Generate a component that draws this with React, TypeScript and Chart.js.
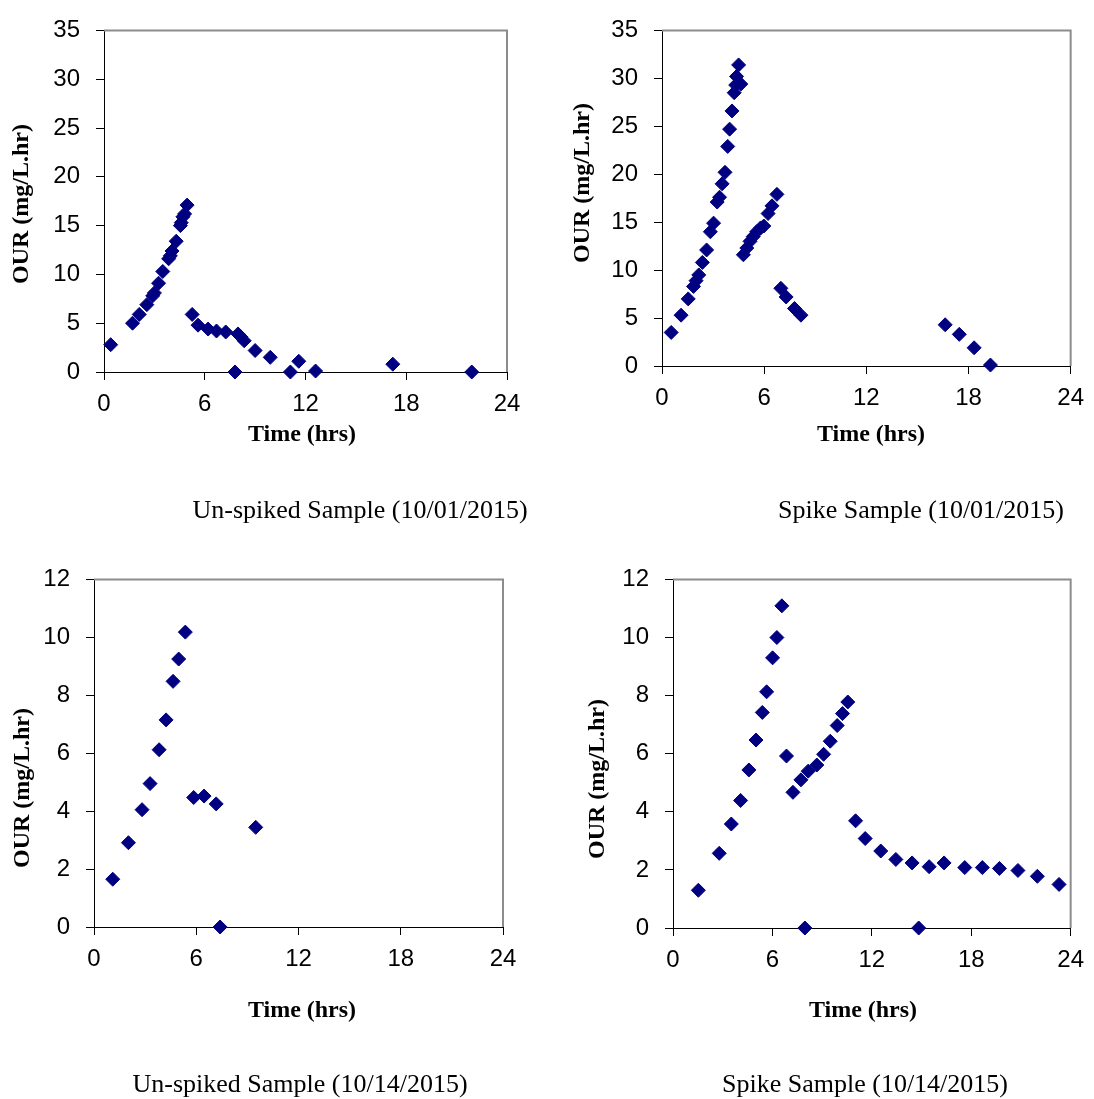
import React, { useEffect, useRef } from 'react';
import { Chart, registerables } from 'chart.js';

Chart.register(...registerables);

// ---------- Data ----------
const timeTicks = [0, 6, 12, 18, 24];
const ourTicksOct01 = [0, 5, 10, 15, 20, 25, 30, 35];
const ourTicksOct14 = [0, 2, 4, 6, 8, 10, 12];

// Un-spiked Sample (10/01/2015)
const unspikedOct01Time = [0.4, 1.7, 2.1, 2.55, 2.9, 3.0, 3.25, 3.5, 3.85, 3.95, 4.05, 4.3, 4.55, 4.6, 4.7, 4.8, 4.95,
  5.25, 5.6, 6.2, 6.7, 7.25, 7.98, 8.15, 8.35, 9.0, 9.9, 7.8, 11.1, 11.6, 12.6, 17.2, 21.9];
const unspikedOct01OUR = [2.8, 5.0, 5.9, 6.9, 7.8, 8.1, 9.1, 10.3, 11.6, 11.9, 12.4, 13.4, 15.0, 15.3, 15.9, 16.2, 17.1,
  5.9, 4.8, 4.4, 4.2, 4.1, 3.9, 3.6, 3.2, 2.2, 1.5, 0, 0, 1.1, 0.1, 0.8, 0];

// Spike Sample (10/01/2015)
const spikeOct01Time = [0.54, 1.12, 1.54, 1.85, 2.0, 2.16, 2.37, 2.62, 2.84, 3.03, 3.24, 3.38, 3.53, 3.7, 3.86, 3.97,
  4.11, 4.24, 4.33, 4.38, 4.5, 4.63,
  4.78, 4.98, 5.17, 5.36, 5.56, 5.79, 5.98, 6.23, 6.46, 6.75,
  6.98, 7.29, 7.78, 8.16,
  16.63, 17.46, 18.33, 19.29];
const spikeOct01OUR = [3.5, 5.3, 7.0, 8.3, 8.9, 9.5, 10.8, 12.1, 14.0, 14.9, 17.1, 17.6, 19.0, 20.2, 22.9, 24.7,
  26.6, 28.5, 29.3, 30.2, 31.4, 29.4,
  11.6, 12.3, 13.0, 13.5, 14.0, 14.4, 14.6, 15.9, 16.7, 17.9,
  8.1, 7.2, 6.0, 5.3,
  4.3, 3.3, 1.9, 0.1];

// Un-spiked Sample (10/14/2015)
const unspikedOct14Time = [1.1, 2.02, 2.82, 3.29, 3.82, 4.23, 4.64, 4.97, 5.36, 5.85, 6.46, 7.17, 7.4, 9.49];
const unspikedOct14OUR = [1.65, 2.91, 4.05, 4.95, 6.12, 7.15, 8.48, 9.25, 10.18, 4.47, 4.52, 4.25, 0, 3.44];

// Spike Sample (10/14/2015)
const spikeOct14Time = [1.53, 2.79, 3.52, 4.08, 4.58, 5.01, 5.39, 5.65, 6.01, 6.27, 6.57,
  6.85, 7.24, 7.72, 8.16, 8.68, 9.09, 9.49, 9.91, 10.23, 10.55,
  11.02, 11.6, 12.54, 13.45, 14.43, 15.46, 16.36, 17.61, 18.67, 19.7, 20.82, 21.99, 23.3,
  7.96, 14.83];
const spikeOct14OUR = [1.3, 2.57, 3.58, 4.39, 5.44, 6.47, 7.42, 8.13, 9.3, 10.0, 11.09,
  5.92, 4.67, 5.1, 5.4, 5.61, 5.98, 6.43, 6.97, 7.38, 7.78,
  3.69, 3.08, 2.65, 2.36, 2.24, 2.11, 2.24, 2.08, 2.08, 2.05, 1.98, 1.78, 1.5,
  0, 0];

const yTitleText = 'OUR (mg/L.hr)';
const xTitleText = 'Time (hrs)';

// ---------- Styles ----------
const SANS = "'Liberation Sans', Arial, Helvetica, sans-serif";
const SERIF = "'Liberation Serif', 'Times New Roman', Times, serif";
const MARKER = '#000080';

type Box = { l: number; t: number; r: number; b: number };
type PanelDef = {
  box: { left: number; top: number; width: number; height: number };
  area: Box;
  xs: number[];
  ys: number[];
  yTicks: number[];
  yTitle: { x: number; y: number };
  xTitle: { x: number; y: number };
  caption: { text: string; x: number; y: number };
};

const panels: PanelDef[] = [
  {
    box: { left: 0, top: 0, width: 547, height: 549 },
    area: { l: 104, t: 24, r: 507, b: 372 },
    xs: unspikedOct01Time, ys: unspikedOct01OUR, yTicks: ourTicksOct01,
    yTitle: { x: 28, y: 204 },
    xTitle: { x: 302, y: 441 },
    caption: { text: 'Un-spiked Sample (10/01/2015)', x: 360, y: 518 },
  },
  {
    box: { left: 547, top: 0, width: 547, height: 549 },
    area: { l: 662, t: 27, r: 1077, b: 366 },
    xs: spikeOct01Time, ys: spikeOct01OUR, yTicks: ourTicksOct01,
    yTitle: { x: 589, y: 183 },
    xTitle: { x: 871, y: 441 },
    caption: { text: 'Spike Sample (10/01/2015)', x: 921, y: 518 },
  },
  {
    box: { left: 0, top: 549, width: 547, height: 550 },
    area: { l: 94, t: 576, r: 503, b: 927 },
    xs: unspikedOct14Time, ys: unspikedOct14OUR, yTicks: ourTicksOct14,
    yTitle: { x: 29, y: 788 },
    xTitle: { x: 302, y: 1017 },
    caption: { text: 'Un-spiked Sample (10/14/2015)', x: 300, y: 1092 },
  },
  {
    box: { left: 547, top: 549, width: 547, height: 550 },
    area: { l: 673, t: 574, r: 1075, b: 928 },
    xs: spikeOct14Time, ys: spikeOct14OUR, yTicks: ourTicksOct14,
    yTitle: { x: 604, y: 779 },
    xTitle: { x: 863, y: 1017 },
    caption: { text: 'Spike Sample (10/14/2015)', x: 865, y: 1092 },
  },
];

const decorPlugin = {
  id: 'decor',
  beforeDatasetsDraw(chart: any) {
    const { ctx, chartArea: a } = chart;
    ctx.save();
    ctx.strokeStyle = '#8c8c8c';
    ctx.lineWidth = 2;
    ctx.beginPath();
    ctx.moveTo(a.left, a.top);
    ctx.lineTo(a.right, a.top);
    ctx.lineTo(a.right, a.bottom);
    ctx.stroke();
    ctx.restore();
  },
  afterDraw(chart: any, _args: any, opts: any) {
    const { ctx } = chart;
    ctx.save();
    ctx.fillStyle = '#000';
    ctx.textBaseline = 'alphabetic';
    ctx.textAlign = 'center';
    // y title (rotated)
    ctx.font = `bold 24px ${SERIF}`;
    ctx.save();
    ctx.translate(opts.yTitle.x, opts.yTitle.y);
    ctx.rotate(-Math.PI / 2);
    ctx.fillText(yTitleText, 0, 0);
    ctx.restore();
    // x title
    ctx.fillText(xTitleText, opts.xTitle.x, opts.xTitle.y);
    // caption
    ctx.font = `26px ${SERIF}`;
    ctx.fillText(opts.caption.text, opts.caption.x, opts.caption.y);
    ctx.restore();
  },
};

function Panel({ def }: { def: PanelDef }) {
  const ref = useRef<HTMLCanvasElement | null>(null);
  useEffect(() => {
    const canvas = ref.current;
    if (!canvas) return;
    const { box, area } = def;
    const ox = box.left;
    const oy = box.top;
    const yMax = def.yTicks[def.yTicks.length - 1];
    const data = def.xs.map((x, i) => ({ x, y: def.ys[i] }));
    const tickFont = { family: SANS, size: 24 };
    const chart = new Chart(canvas, {
      type: 'scatter',
      data: {
        datasets: [
          {
            data,
            pointStyle: 'rectRot',
            pointRadius: 7,
            pointHoverRadius: 7,
            backgroundColor: MARKER,
            borderColor: MARKER,
            borderWidth: 1,
            clip: false as any,
          },
        ],
      },
      options: {
        responsive: false,
        animation: false,
        devicePixelRatio: 1,
        layout: {
          padding: { top: area.t - oy, right: ox + box.width - area.r, left: 0, bottom: 0 },
        },
        plugins: {
          legend: { display: false },
          tooltip: { enabled: false },
          decor: {
            yTitle: { x: def.yTitle.x - ox, y: def.yTitle.y - oy },
            xTitle: { x: def.xTitle.x - ox, y: def.xTitle.y - oy },
            caption: { text: def.caption.text, x: def.caption.x - ox, y: def.caption.y - oy },
          },
        } as any,
        scales: {
          x: {
            type: 'linear',
            position: 'bottom',
            min: timeTicks[0],
            max: timeTicks[timeTicks.length - 1],
            afterBuildTicks: (s: any) => {
              s.ticks = timeTicks.map((v) => ({ value: v }));
            },
            ticks: { font: tickFont, color: '#000', padding: 10, maxRotation: 0, autoSkip: false },
            grid: { drawOnChartArea: false, drawTicks: true, tickLength: 8, color: '#000', lineWidth: 1 },
            border: { display: true, color: '#000', width: 1 },
            afterFit: (s: any) => {
              s.height = oy + box.height - area.b;
            },
          },
          y: {
            type: 'linear',
            min: 0,
            max: yMax,
            afterBuildTicks: (s: any) => {
              s.ticks = def.yTicks.map((v) => ({ value: v }));
            },
            ticks: { font: tickFont, color: '#000', padding: 16, autoSkip: false },
            grid: { drawOnChartArea: false, drawTicks: true, tickLength: 8, color: '#000', lineWidth: 1 },
            border: { display: true, color: '#000', width: 1 },
            afterFit: (s: any) => {
              s.width = area.l - ox;
            },
          },
        },
      },
      plugins: [decorPlugin],
    });
    return () => chart.destroy();
  }, [def]);
  const { box } = def;
  return (
    <canvas
      ref={ref}
      width={box.width}
      height={box.height}
      style={{ position: 'absolute', left: box.left, top: box.top, width: box.width, height: box.height }}
    />
  );
}

export default function App() {
  return (
    <div style={{ position: 'absolute', left: 0, top: 0, width: 1094, height: 1099, background: '#fff', overflow: 'hidden' }}>
      {panels.map((p, i) => (
        <Panel key={i} def={p} />
      ))}
    </div>
  );
}
